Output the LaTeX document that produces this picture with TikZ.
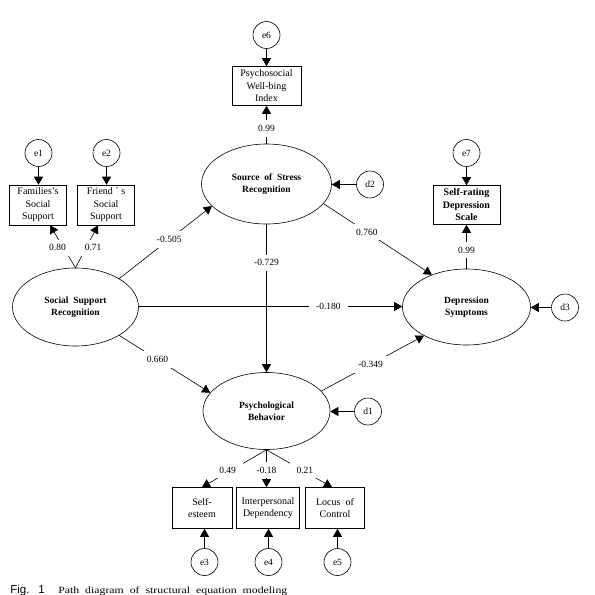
\documentclass[tikz,border=0pt]{standalone}
\usepackage{fontspec}
\usepackage{graphicx}
\setmainfont{Liberation Serif}
\newfontfamily\capsans{Liberation Sans}
\usetikzlibrary{arrows.meta,shapes.geometric}
\begin{document}
\begin{tikzpicture}[x=1pt,y=-1pt,
  line width=0.6pt,
  arr/.style={-{Triangle[length=8pt,width=9pt]}},
  latent/.style={draw,ellipse,inner sep=0pt,font=\fontsize{9.5}{11.5}\selectfont\bfseries,align=center},
  obs/.style={draw,rectangle,inner sep=1pt,font=\fontsize{10}{12.5}\selectfont,align=center},
  obsb/.style={obs,font=\fontsize{10}{12.5}\selectfont\bfseries},
  err/.style={draw,circle,minimum size=27pt,inner sep=0pt,font=\fontsize{9.5}{11}\selectfont},
  lbl/.style={fill=white,inner xsep=7pt,inner ysep=5pt,font=\fontsize{9.5}{11}\selectfont}
]
\useasboundingbox (0,0) rectangle (595,595);
\fill[white] (0,0) rectangle (595,595);

% latent variables
\node[latent,minimum width=126pt,minimum height=78pt] (ssr) at (75.5,307) {Social\ \ Support\\Recognition};
\node[latent,minimum width=130pt,minimum height=80pt] (src) at (266.5,184) {Source\ \ of\ \ Stress\\Recognition};
\node[latent,minimum width=128pt,minimum height=76pt] (dep) at (466.5,307) {Depression\\Symptoms};
\node[latent,minimum width=127pt,minimum height=77pt] (psy) at (266.5,411) {Psychological\\Behavior};

% observed variables
\node[obs,minimum width=57pt,minimum height=40pt] (fam) at (38,205) {Families's\\Social\\Support};
\node[obs,minimum width=57pt,minimum height=40pt] (fri) at (106,205) {Friend ´ s\\Social\\Support};
\node[obs,minimum width=69pt,minimum height=39pt] (psb) at (266.5,86) {Psychosocial\\Well-bing\\Index};
\node[obsb,minimum width=67pt,minimum height=39pt] (srd) at (466.5,205) {Self-rating\\Depression\\Scale};
\node[obs,minimum width=60pt,minimum height=41pt] (se) at (202,508) {Self-\\esteem};
\node[obs,minimum width=63pt,minimum height=41pt] (ip) at (268,508) {Interpersonal\\Dependency};
\node[obs,minimum width=59pt,minimum height=41pt] (lc) at (335,508) {Locus\ \ of\\Control};

% error / disturbance terms
\node[err] (e1) at (38.5,153) {e1};
\node[err] (e2) at (106.5,153) {e2};
\node[err] (e6) at (266.5,35) {e6};
\node[err] (e7) at (466.5,153) {e7};
\node[err] (d2) at (370,184.5) {d2};
\node[err] (d3) at (565,307.5) {d3};
\node[err] (d1) at (368,411.5) {d1};
\node[err] (e3) at (204.5,562) {e3};
\node[err] (e4) at (268.5,562) {e4};
\node[err] (e5) at (337.5,562) {e5};

% error arrows
\draw[arr] (e1) -- (e1 |- fam.north);
\draw[arr] (e2) -- (e2 |- fri.north);
\draw[arr] (e6) -- (psb);
\draw[arr] (e7) -- (srd);
\draw[arr] (d2) -- (d2 -| src.east);
\draw[arr] (d3) -- (d3 -| dep.east);
\draw[arr] (d1) -- (d1 -| psy.east);
\draw[arr] (e3) -- (e3 |- se.south);
\draw[arr] (e4) -- (e4 |- ip.south);
\draw[arr] (e5) -- (e5 |- lc.south);

% structural paths
\draw[arr] (ssr.33) -- node[lbl,pos=0.54]{-0.505} (src.202);
\draw[arr] (ssr.-33) -- node[lbl,pos=0.42]{0.660} (psy.162);
\draw[arr] ([yshift=0.5pt]ssr.east) -- node[lbl,pos=0.72]{-0.180} ([yshift=0.5pt]dep.west);
\draw[arr] (src.south) -- node[lbl,pos=0.26]{-0.729} (psy.north);
\draw[arr] (src.-19) -- node[lbl,pos=0.4]{0.760} (dep.137);
\draw[arr] (psy.20) -- node[lbl,pos=0.48]{-0.349} (dep.214);

% measurement paths
\draw[arr] (ssr.north) -- node[lbl,pos=0.47,xshift=-6pt]{0.80} ([xshift=12pt]fam.south);
\draw[arr] (ssr.north) -- node[lbl,pos=0.47,xshift=7pt]{0.71} ([xshift=-8pt]fri.south);
\draw[arr] (src.north) -- node[lbl,pos=0.4]{0.99} (psb.south);
\draw[arr] (dep.north) -- node[lbl,pos=0.42]{0.99} (srd.south);
\draw[arr] (psy.south) -- node[lbl,pos=0.54,xshift=-4pt]{0.49} (se.north);
\draw[arr] (psy.south) -- node[lbl,pos=0.54]{-0.18} (psy.south |- ip.north);
\draw[arr] (psy.south) -- node[lbl,pos=0.54,xshift=3pt]{0.21} ([xshift=-3pt]lc.north);

% caption
\node[anchor=base west,inner sep=0pt,font=\capsans\fontsize{11.5}{13}\selectfont] (figno) at (10,593) {Fig.\hspace{9pt}1};
\node[anchor=base west,inner sep=0pt,font=\fontsize{9.5}{11}\selectfont] (figcap) at (58,593) {\resizebox{229pt}{\height}{Path\ \ diagram\ \ of\ \ structural\ \ equation\ \ modeling}};
\end{tikzpicture}
\end{document}
